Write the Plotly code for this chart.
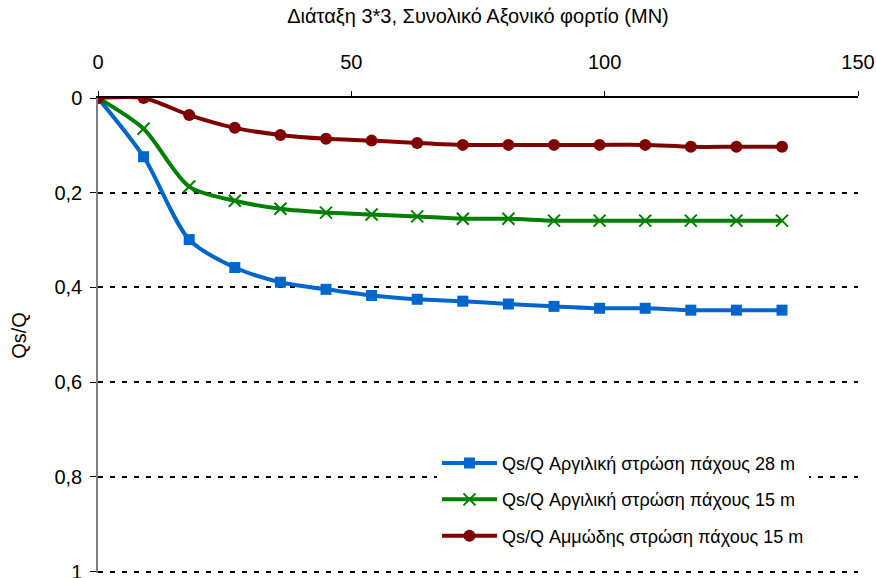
import plotly.graph_objects as go

load_mn = [0, 9, 18, 27, 36, 45, 54, 63, 72, 81, 90, 99, 108, 117, 126, 135]
clay_28 = [0, 0.124, 0.299, 0.358, 0.389, 0.404, 0.417, 0.425, 0.429, 0.435, 0.440, 0.444, 0.444, 0.448, 0.448, 0.448]
clay_15 = [0, 0.065, 0.187, 0.217, 0.234, 0.242, 0.246, 0.250, 0.255, 0.255, 0.259, 0.259, 0.259, 0.259, 0.259, 0.259]
sand_15 = [0, 0.0, 0.036, 0.063, 0.078, 0.086, 0.090, 0.095, 0.099, 0.099, 0.099, 0.099, 0.099, 0.103, 0.103, 0.103]

names = [
    "Qs/Q Αργιλική στρώση πάχους 28 m",
    "Qs/Q Αργιλική στρώση πάχους 15 m",
    "Qs/Q Αμμώδης στρώση πάχους 15 m",
]
title_x = "Διάταξη 3*3, Συνολικό Αξονικό φορτίο (MN)"
title_y = "Qs/Q"
x_ticks = [0, 50, 100, 150]
y_ticks = [0, 0.2, 0.4, 0.6, 0.8, 1]
y_ticktext = ["0", "0,2", "0,4", "0,6", "0,8", "1"]

fig = go.Figure()
fig.add_trace(go.Scatter(
    x=load_mn, y=clay_28, name=names[0], mode="lines+markers", legendgroup="a",
    line=dict(color="#0066CC", width=4, shape="spline", smoothing=0.8),
    marker=dict(symbol="square", size=11, color="#0066CC"),
))
fig.add_trace(go.Scatter(
    x=load_mn, y=clay_15, name=names[1], mode="lines+markers", legendgroup="b",
    line=dict(color="#008000", width=4, shape="spline", smoothing=0.8),
    marker=dict(symbol="x-thin", size=12, color="#008000", line=dict(color="#008000", width=2)),
))
fig.add_trace(go.Scatter(
    x=load_mn, y=sand_15, name=names[2], mode="lines+markers", legendgroup="c",
    line=dict(color="#800000", width=4, shape="spline", smoothing=0.8),
    marker=dict(symbol="circle", size=12, color="#800000"),
))

font = "Liberation Sans, Arial, sans-serif"
fig.update_layout(
    width=876, height=578,
    margin=dict(l=98, r=18, t=98, b=5),
    paper_bgcolor="white", plot_bgcolor="white",
    font=dict(family=font, size=20, color="black"),
    xaxis=dict(
        side="top", range=[0, 150], tickmode="array", tickvals=x_ticks,
        showgrid=False, zeroline=False,
        showline=True, linecolor="black", linewidth=1.5,
        ticks="outside", ticklen=5, tickcolor="black",
        ticklabelstandoff=14,
        title=dict(text=title_x, font=dict(size=20), standoff=22),
        automargin=False,
    ),
    yaxis=dict(
        range=[1.003, 0], tickmode="array", tickvals=y_ticks, ticktext=y_ticktext,
        showgrid=True, gridcolor="black", gridwidth=2, griddash="5px,7px",
        zeroline=False,
        showline=True, linecolor="#808080", linewidth=1.5,
        ticks="outside", ticklen=6, tickcolor="black",
        ticklabelstandoff=4, ticklabeloverflow="allow",
        title=dict(text=title_y, font=dict(size=20), standoff=22),
        automargin=False,
    ),
    legend=dict(
        x=0.446, y=0.27, xanchor="left", yanchor="top",
        bgcolor="white", borderwidth=0,
        font=dict(size=18, family=font),
        tracegroupgap=10, itemwidth=55,
    ),
)

fig.write_html("out.html", config={"displayModeBar": False},
               post_script="document.body.style.margin='0';")
